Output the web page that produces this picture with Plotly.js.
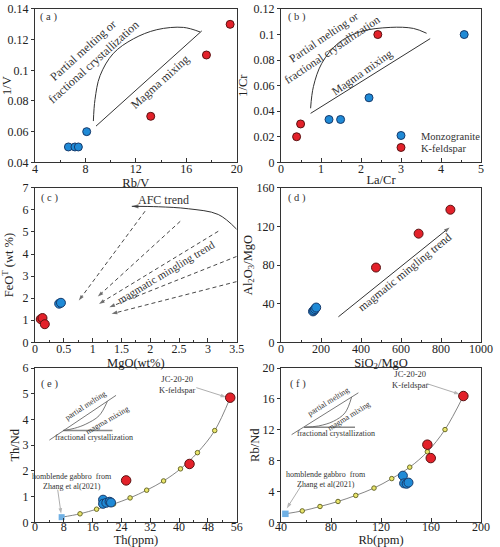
<!DOCTYPE html>
<html><head><meta charset="utf-8">
<script src="https://cdn.plot.ly/plotly-3.0.1.min.js"></script>
<style>html,body{margin:0;padding:0;background:#fff}#chart{width:500px;height:547px}</style>
</head><body><div id="chart"></div>
<script>
// ---------- DATA ----------
// (a) 1/V vs Rb/V
const aMonzoX = [6.65, 7.17, 7.44, 8.1];
const aMonzoY = [0.05, 0.05, 0.05, 0.06];
const aKfsX = [13.18, 17.6, 19.48];
const aKfsY = [0.07, 0.11, 0.13];
const aCurveX = [8.63, 8.76, 9.16, 10.21, 11.8, 13.66, 15.77, 17.1];
const aCurveY = [0.0669, 0.081, 0.0965, 0.111, 0.1205, 0.1265, 0.128, 0.125];
const aMixX = [8.84, 17.23];
const aMixY = [0.0636, 0.1257];
// (b) 1/Cr vs La/Cr
const bMonzoX = [1.2, 1.49, 2.2, 4.58];
const bMonzoY = [0.0335, 0.0335, 0.0505, 0.1];
const bKfsX = [0.39, 0.49, 2.42];
const bKfsY = [0.02, 0.03, 0.1];
const bCurveX = [0.74, 0.81, 1.02, 1.43, 1.98, 2.73, 3.31, 3.64];
const bCurveY = [0.0423, 0.0592, 0.0775, 0.0932, 0.1022, 0.1056, 0.1048, 0.101];
const bMixX = [0.74, 3.73];
const bMixY = [0.0383, 0.0968];
// (c) FeOT vs MgO
const cMonzoX = [0.42, 0.45];
const cMonzoY = [1.75, 1.79];
const cKfsX = [0.1, 0.13, 0.17];
const cKfsY = [1.05, 1.1, 0.82];
const cAfcX = [3.5, 3.18, 2.66, 2.14, 1.68];
const cAfcY = [5.12, 5.79, 6.05, 6.14, 6.16];
const cTrendStartX = [1.91, 2.52, 3.18, 3.5, 3.5];
const cTrendStartY = [5.94, 5.48, 5.03, 3.89, 2.75];
const cTrendEndX = [0.76, 1.09, 1.11, 1.29, 1.33];
const cTrendEndY = [1.89, 2.07, 1.74, 1.59, 1.29];
// (d) Al2O3/MgO vs SiO2/MgO
const dMonzoX = [160, 165, 170, 176];
const dMonzoY = [32, 33, 34.5, 36];
const dKfsX = [475, 688, 847];
const dKfsY = [77.4, 112.5, 137.3];
const dTrendX = [287, 843];
const dTrendY = [26.4, 119];
// (e) Th/Nd vs Th
const eMonzoX = [18.9, 18.9, 19.8, 20.7, 21.1];
const eMonzoY = [0.88, 0.72, 0.76, 0.8, 0.77];
const eKfsX = [25.3, 42.9, 54.2];
const eKfsY = [1.63, 2.27, 4.85];
const eModelX = [12.5, 17.1, 21.8, 26.4, 31.0, 35.7, 40.4, 45.1, 49.9];
const eModelY = [0.33, 0.51, 0.71, 0.95, 1.25, 1.61, 2.08, 2.71, 3.57];
const eGabbroX = [7.4];
const eGabbroY = [0.2];
const eInsetPmX = [4.0, 22.5], eInsetPmY = [3.2, 4.94];
const eInsetFcX = [7.8, 21.5], eInsetFcY = [3.57, 3.57];
const eInsetMmX = [7.8, 11, 14.1, 17.8, 20.1], eInsetMmY = [3.57, 3.66, 3.82, 4.15, 4.71];
const eLabelArrowX = [44.8, 53.1], eLabelArrowY = [5.24, 4.87];
const eSourceArrowX = [6.3, 7.25], eSourceArrowY = [1.27, 0.33];
// (f) Rb/Nd vs Rb
const fMonzoX = [137.5, 138.5, 140.5, 142];
const fMonzoY = [6.05, 5.05, 5.0, 5.15];
const fKfsX = [157.1, 159.8, 185.9];
const fKfsY = [10.07, 8.33, 16.38];
const fModelX = [57.0, 71.2, 85.6, 99.8, 114.4, 128.6, 143.0, 157.1, 171.2];
const fModelY = [1.48, 2.05, 2.7, 3.49, 4.44, 5.67, 7.15, 9.15, 12.03];
const fGabbroX = [43.5];
const fGabbroY = [1.1];
const fInsetPmX = [48.5, 101.9], fInsetPmY = [11.37, 16.8];
const fInsetFcX = [58.5, 99.2], fInsetFcY = [12.33, 12.33];
const fInsetMmX = [58.5, 70, 81.9, 91.2, 96.5], fInsetMmY = [12.33, 12.5, 13.1, 14.2, 16.25];
const fLabelArrowX = [156.5, 183], fLabelArrowY = [18.0, 16.6];
const fSourceArrowX = [56.5, 44.6], fSourceArrowY = [4.84, 1.8];

// ---------- STYLE ----------
const FONT = 'Liberation Serif, Times New Roman, serif';
const BLUE = '#1f8ad6', BLUE_LINE = '#173a6b';
const RED = '#e3212a', RED_LINE = '#5a1212';
const TXT = '#333';

function pts(x, y, xa, ya, color, lc, size, name, legend) {
  const t = {type:'scatter', mode:'markers', x, y, xaxis:xa, yaxis:ya, name,
    showlegend:!!legend, cliponaxis:false,
    marker:{color, size, line:{color:lc, width:1}}};
  if (legend && legend !== true) t.legend = legend;
  return t;
}
function line(x, y, xa, ya, opt) {
  opt = opt || {};
  return {type:'scatter', mode:'lines', x, y, xaxis:xa, yaxis:ya, showlegend:false, hoverinfo:'skip',
    line:{color:opt.color||'#333', width:opt.width||1, dash:opt.dash||'solid', shape:opt.shape||'linear'}};
}
function arrowLine(x, y, xa, ya, opt) {
  opt = opt || {};
  const sizes = x.map((v,i)=> i===x.length-1 ? (opt.head||7) : 0);
  return {type:'scatter', mode:'lines+markers', x, y, xaxis:xa, yaxis:ya, showlegend:false, hoverinfo:'skip',
    cliponaxis:false,
    line:{color:opt.color||'#333', width:opt.width||1, dash:opt.dash||'solid', shape:opt.shape||'linear'},
    marker:{symbol:'arrow', angleref:'previous', size:sizes, color:opt.color||'#333', line:{width:0}}};
}

const traces = [];
// (a)
traces.push(line(aCurveX, aCurveY, 'x', 'y', {shape:'spline'}));
traces.push(line(aMixX, aMixY, 'x', 'y'));
traces.push(pts(aMonzoX, aMonzoY, 'x', 'y', BLUE, BLUE_LINE, 8, 'Monzogranite'));
traces.push(pts(aKfsX, aKfsY, 'x', 'y', RED, RED_LINE, 8, 'K-feldspar'));
// (b)
traces.push(line(bCurveX, bCurveY, 'x2', 'y2', {shape:'spline'}));
traces.push(line(bMixX, bMixY, 'x2', 'y2'));
traces.push(pts(bMonzoX, bMonzoY, 'x2', 'y2', BLUE, BLUE_LINE, 8, 'Monzogranite', 'legend'));
traces.push(pts(bKfsX, bKfsY, 'x2', 'y2', RED, RED_LINE, 8, 'K-feldspar', 'legend2'));
// (c)
traces.push(arrowLine(cAfcX, cAfcY, 'x3', 'y3', {shape:'spline', head:7}));
for (let i = 0; i < cTrendStartX.length; i++) {
  traces.push(arrowLine([cTrendStartX[i], cTrendEndX[i]], [cTrendStartY[i], cTrendEndY[i]], 'x3', 'y3', {dash:'4px,3px', width:0.9, head:6}));
}
traces.push(pts(cMonzoX, cMonzoY, 'x3', 'y3', BLUE, BLUE_LINE, 9, 'Monzogranite'));
traces.push(pts(cKfsX, cKfsY, 'x3', 'y3', RED, RED_LINE, 9, 'K-feldspar'));
// (d)
traces.push(arrowLine(dTrendX, dTrendY, 'x4', 'y4', {head:6}));
traces.push(pts(dMonzoX, dMonzoY, 'x4', 'y4', BLUE, BLUE_LINE, 9, 'Monzogranite'));
traces.push(pts(dKfsX, dKfsY, 'x4', 'y4', RED, RED_LINE, 9, 'K-feldspar'));
// (e)
traces.push(line(eInsetPmX, eInsetPmY, 'x5', 'y5', {color:'#555', width:0.8}));
traces.push(line(eInsetFcX, eInsetFcY, 'x5', 'y5', {color:'#888', width:1.6}));
traces.push(line(eInsetMmX, eInsetMmY, 'x5', 'y5', {color:'#555', width:0.8, shape:'spline'}));
traces.push(line(eGabbroX.concat(eModelX, [eKfsX[2]]), eGabbroY.concat(eModelY, [eKfsY[2]]), 'x5', 'y5', {color:'#666', width:0.8, shape:'spline'}));
traces.push(arrowLine(eLabelArrowX, eLabelArrowY, 'x5', 'y5', {color:'#999', width:0.8, head:6}));
traces.push(arrowLine(eSourceArrowX, eSourceArrowY, 'x5', 'y5', {color:'#999', width:0.8, head:6}));
traces.push(pts(eModelX, eModelY, 'x5', 'y5', '#e9e56a', '#6b6b2a', 4.5, 'Model'));
traces.push({type:'scatter', mode:'markers', x:eGabbroX, y:eGabbroY, xaxis:'x5', yaxis:'y5', showlegend:false, cliponaxis:false,
  name:'Hornblende gabbro', marker:{symbol:'square', size:6, color:'#6fb0e4', line:{width:0}}});
traces.push(pts(eMonzoX, eMonzoY, 'x5', 'y5', BLUE, BLUE_LINE, 9, 'Monzogranite'));
traces.push(pts(eKfsX, eKfsY, 'x5', 'y5', RED, RED_LINE, 9.5, 'K-feldspar'));
// (f)
traces.push(line(fInsetPmX, fInsetPmY, 'x6', 'y6', {color:'#555', width:0.8}));
traces.push(line(fInsetFcX, fInsetFcY, 'x6', 'y6', {color:'#888', width:1.6}));
traces.push(line(fInsetMmX, fInsetMmY, 'x6', 'y6', {color:'#555', width:0.8, shape:'spline'}));
traces.push(line(fGabbroX.concat(fModelX, [fKfsX[2]]), fGabbroY.concat(fModelY, [fKfsY[2]]), 'x6', 'y6', {color:'#666', width:0.8, shape:'spline'}));
traces.push(arrowLine(fLabelArrowX, fLabelArrowY, 'x6', 'y6', {color:'#999', width:0.8, head:6}));
traces.push(arrowLine(fSourceArrowX, fSourceArrowY, 'x6', 'y6', {color:'#999', width:0.8, head:6}));
traces.push(pts(fModelX, fModelY, 'x6', 'y6', '#e9e56a', '#6b6b2a', 4.5, 'Model'));
traces.push({type:'scatter', mode:'markers', x:fGabbroX, y:fGabbroY, xaxis:'x6', yaxis:'y6', showlegend:false, cliponaxis:false,
  name:'Hornblende gabbro', marker:{symbol:'square', size:6.5, color:'#6fb0e4', line:{width:0}}});
traces.push(pts(fMonzoX, fMonzoY, 'x6', 'y6', BLUE, BLUE_LINE, 9, 'Monzogranite'));
traces.push(pts(fKfsX, fKfsY, 'x6', 'y6', RED, RED_LINE, 9.5, 'K-feldspar'));

// ---------- AXES ----------
function xAx(domain, range, dtick, minor, anchor, title, standoff, lblOff) {
  return {domain, range, dtick, tick0:0, anchor, automargin:false,
    showline:true, mirror:true, linecolor:'#333', linewidth:1,
    ticks:'inside', ticklen:4, tickwidth:1, tickcolor:'#333', ticklabelstandoff:lblOff,
    minor:{ticks:'inside', ticklen:2.5, tickcolor:'#333', dtick:minor, showgrid:false},
    showgrid:false, zeroline:false,
    tickfont:{family:FONT, size:12, color:'#222'},
    title:{text:title, standoff:standoff, font:{family:FONT, size:12.5, color:'#222'}}};
}
function yAx(domain, range, dtick, anchor, title, standoff) {
  return {domain, range, dtick, tick0:0, anchor, automargin:false,
    showline:true, mirror:true, linecolor:'#333', linewidth:1,
    ticks:'outside', ticklen:3, tickwidth:1, tickcolor:'#333',
    showgrid:false, zeroline:false,
    tickfont:{family:FONT, size:12, color:'#222'},
    title:{text:title, standoff:standoff, font:{family:FONT, size:12.5, color:'#222'}}};
}
const XL = [0.07, 0.4734], XR = [0.562, 0.962];
const Y1 = [0.7033, 0.98355], Y2 = [0.37422, 0.6567], Y3 = [0.04516, 0.3270];

function ann(text, x, y, xr, yr, size, angle, extra) {
  return Object.assign({text, x, y, xref:xr, yref:yr, showarrow:false, textangle:angle||0,
    font:{family:FONT, size:size, color:TXT}}, extra||{});
}
function panelLabel(text, xr, yr, x, y) {
  return {text, x, y, xref:xr+' domain', yref:yr+' domain', xanchor:'left', yanchor:'middle', showarrow:false,
    font:{family:FONT, size:10.5, color:TXT}};
}

const annotations = [
  panelLabel('( a )', 'x', 'y', 0.015, 0.946),
  panelLabel('( b )', 'x2', 'y2', 0.025, 0.946),
  panelLabel('( c )', 'x3', 'y3', 0.022, 0.935),
  panelLabel('( d )', 'x4', 'y4', 0.025, 0.935),
  panelLabel('( e )', 'x5', 'y5', 0.018, 0.897),
  panelLabel('( f )', 'x6', 'y6', 0.035, 0.897),
  ann('Partial melting or<br>fractional crystallization', 8.27, 0.1092, 'x', 'y', 12, -42),
  ann('Magma mixing', 13.9, 0.0925, 'x', 'y', 12, -42),
  ann('Partial melting or<br>fractional crystallization', 1.17, 0.0928, 'x2', 'y2', 11.5, -34),
  ann('Magma mixing', 2.04, 0.0701, 'x2', 'y2', 11.5, -35),
  ann('AFC trend', 2.23, 6.44, 'x3', 'y3', 12, 0),
  ann('magmatic mingling trend', 2.27, 3.2, 'x3', 'y3', 11, -31),
  ann('magmatic mingling trend', 620, 72, 'x4', 'y4', 11.5, -39),
  ann('partial melting', 14.1, 4.55, 'x5', 'y5', 8, -33),
  ann('magma mixing', 19.9, 3.98, 'x5', 'y5', 8, -30),
  ann('fractional crystallization', 16.3, 3.31, 'x5', 'y5', 8, 0),
  ann('JC-20-20<br>K-feldspar', 39.65, 5.37, 'x5', 'y5', 8.5, 0),
  ann('homblende gabbro  from<br>Zhang et al(2021)', 10.4, 1.6, 'x5', 'y5', 8, 0),
  ann('partial melting', 78.2, 15.65, 'x6', 'y6', 8, -32),
  ann('magma mixing', 94.0, 13.7, 'x6', 'y6', 8, -32),
  ann('fractional crystallization', 84, 11.5, 'x6', 'y6', 8, 0),
  ann('JC-20-20<br>K-feldspar', 143.2, 18.47, 'x6', 'y6', 8.5, 0),
  ann('homblende gabbro  from<br>Zhang et al(2021)', 76, 5.58, 'x6', 'y6', 8, 0)
];

const legendStyle = (y) => ({x:0.762, y:y, xanchor:'left', yanchor:'top', bgcolor:'rgba(0,0,0,0)',
  font:{family:FONT, size:10.5, color:TXT}, itemwidth:30, tracegroupgap:0});

const layout = {
  width:500, height:547, margin:{l:0, r:0, t:0, b:0},
  paper_bgcolor:'#fff', plot_bgcolor:'#fff',
  font:{family:FONT, color:'#222'},
  showlegend:true,
  legend: legendStyle(0.7788),
  legend2: legendStyle(0.7569),
  xaxis: xAx(XL, [4, 20], 4, 2, 'y', 'Rb/V', 0, -5),
  yaxis: yAx(Y1, [0.04, 0.14], 0.02, 'x', '1/V', 4),
  xaxis2: xAx(XR, [0, 5], 1, 0.5, 'y2', 'La/Cr', 0, -5),
  yaxis2: yAx(Y1, [0, 0.12], 0.02, 'x2', '1/Cr', 3),
  xaxis3: xAx(XL, [0, 3.5], 0.5, 0.25, 'y3', 'MgO(wt%)', 0, -5),
  yaxis3: yAx(Y2, [0, 7], 1, 'x3', 'FeO<sup>T</sup> (wt %)', 6),
  xaxis4: xAx(XR, [0, 1000], 200, 100, 'y4', 'SiO<sub>2</sub>/MgO', 0, -5),
  yaxis4: yAx(Y2, [0, 160], 40, 'x4', 'Al<sub>2</sub>O<sub>3</sub>/MgO', 1),
  xaxis5: xAx(XL, [0, 56], 8, 4, 'y5', 'Th(ppm)', 0, -7),
  yaxis5: yAx(Y3, [0, 6], 1, 'x5', 'Th/Nd', 0),
  xaxis6: xAx(XR, [40, 200], 40, 20, 'y6', 'Rb(ppm)', 0, -7),
  yaxis6: yAx(Y3, [0, 20], 4, 'x6', 'Rb/Nd', 0),
  annotations
};
Plotly.newPlot('chart', traces, layout, {staticPlot:true, displayModeBar:false});
</script></body></html>
